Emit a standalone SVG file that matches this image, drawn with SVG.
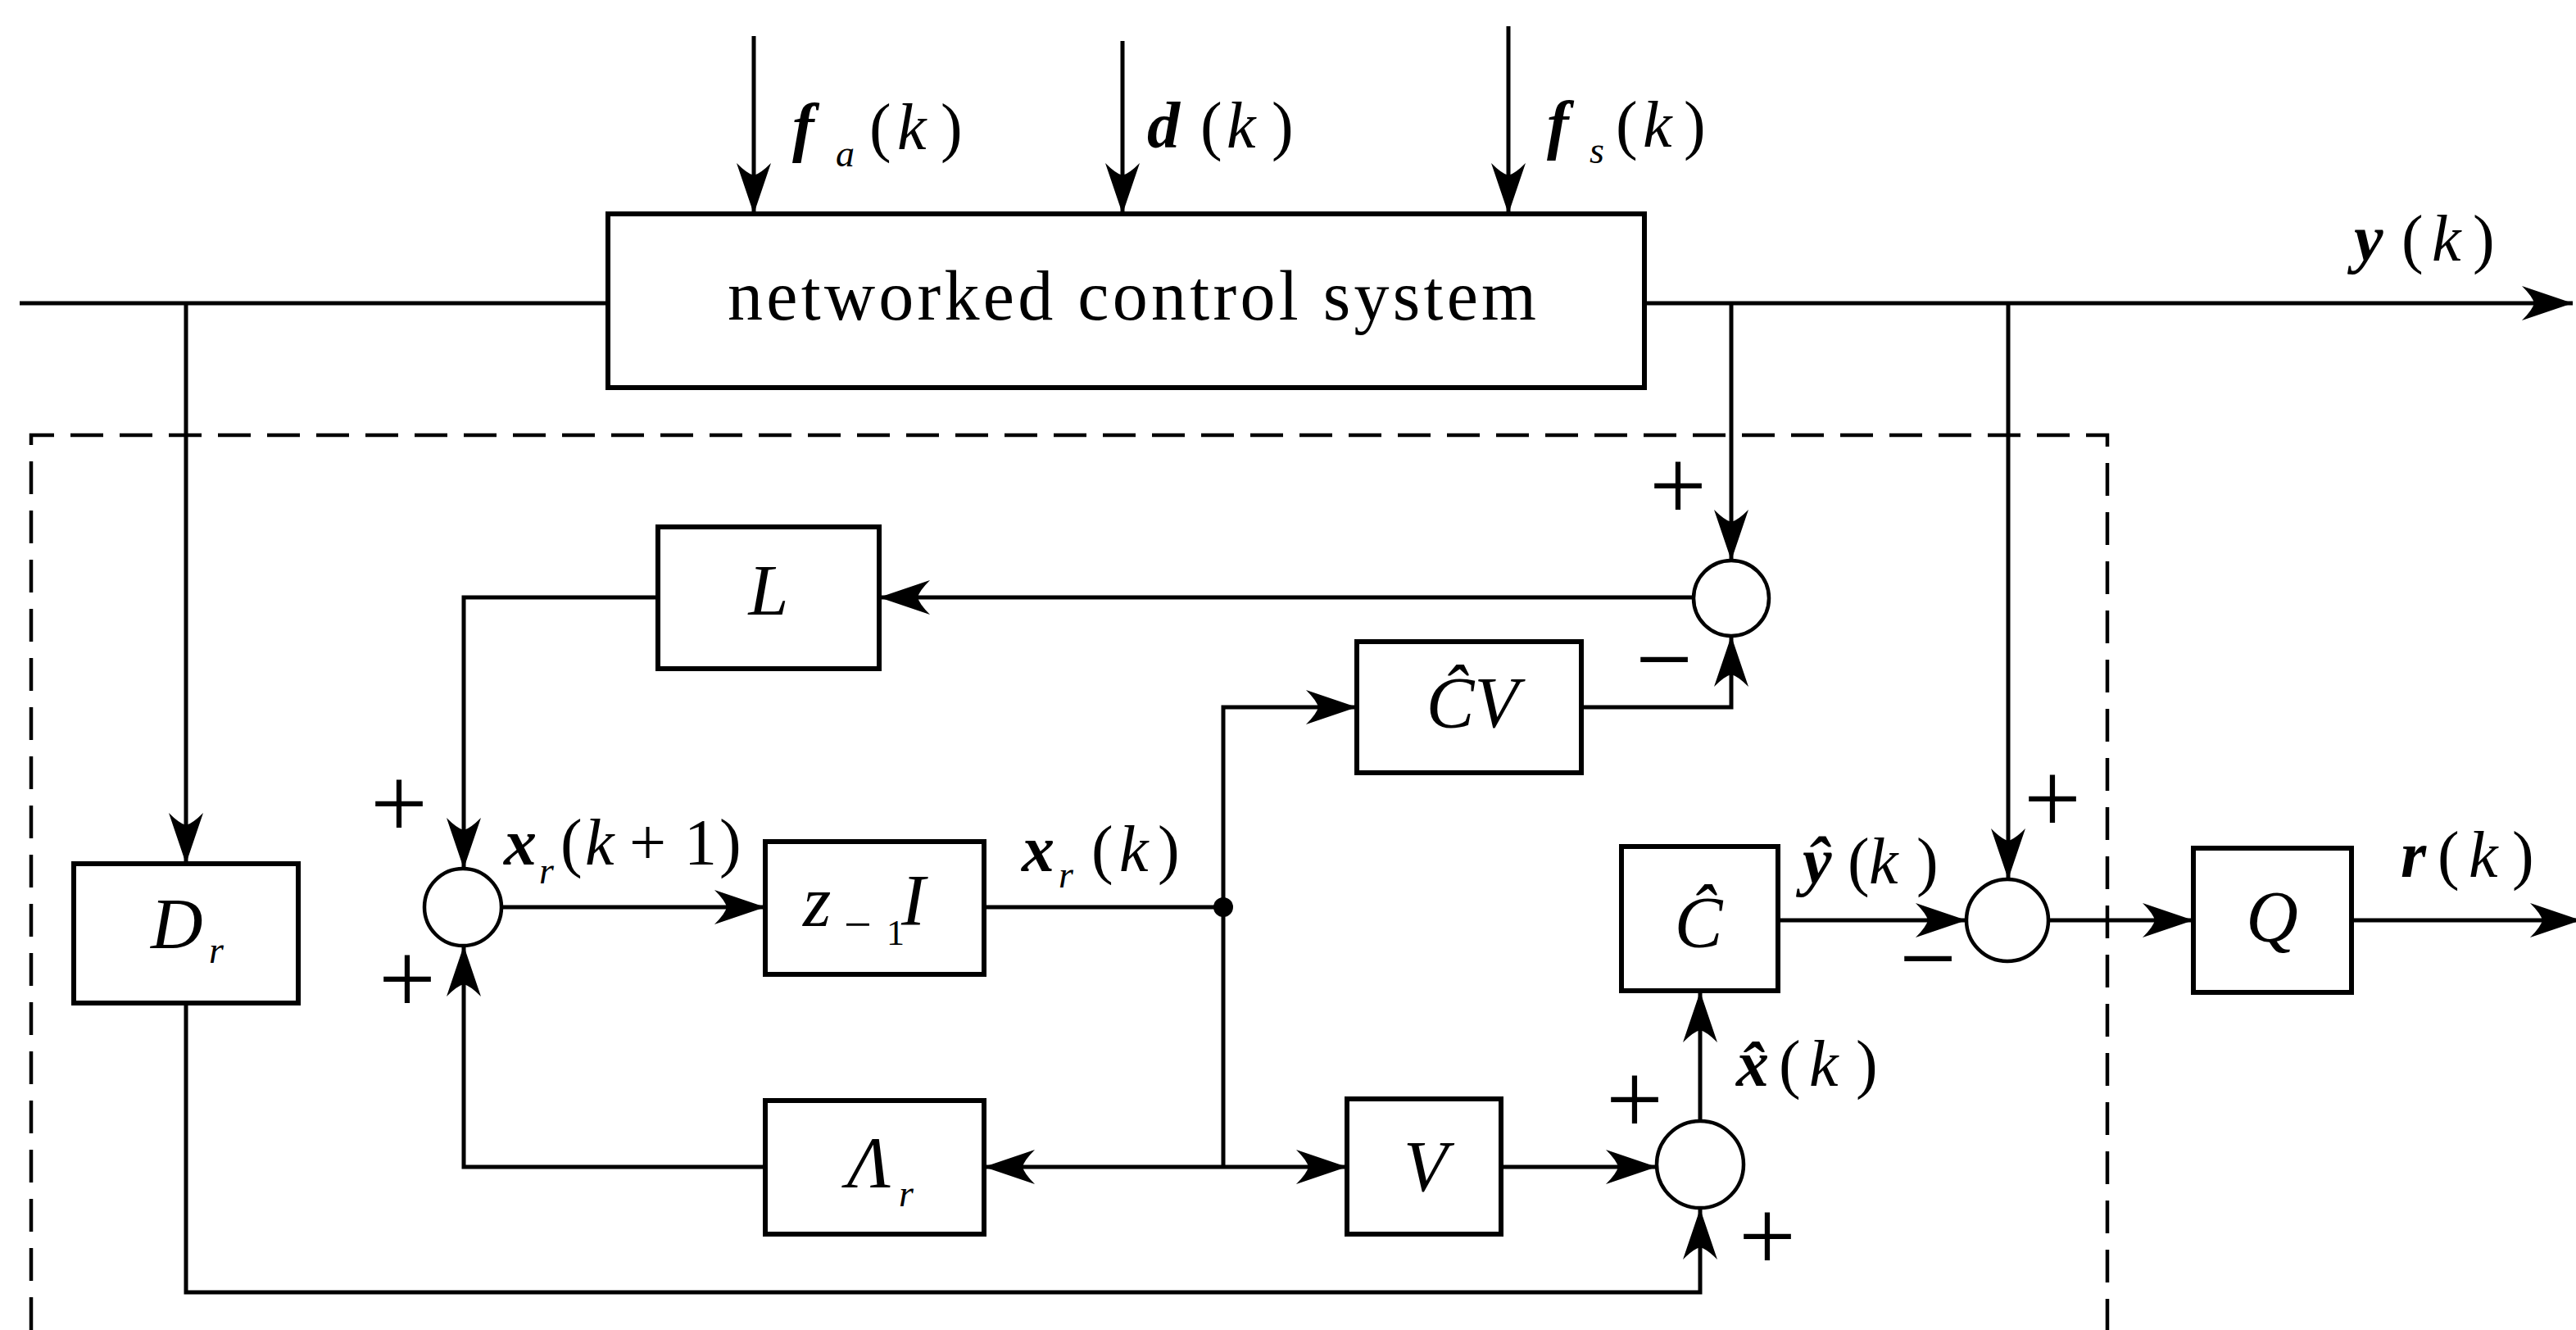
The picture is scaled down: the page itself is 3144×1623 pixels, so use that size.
<svg xmlns="http://www.w3.org/2000/svg" width="3144" height="1623" viewBox="0 0 3144 1623" font-family="'Liberation Serif', Tinos, 'Times New Roman', 'DejaVu Serif', serif">
<style>
.box{fill:#fff;stroke:#000;stroke-width:6}
.ln{fill:none;stroke:#000;stroke-width:5}
.arr{fill:none;stroke:#000;stroke-width:5;marker-end:url(#ah)}
.sum{fill:#fff;stroke:#000;stroke-width:4.5}
.dash{fill:none;stroke:#000;stroke-width:4.5;stroke-dasharray:40 20}
text{font-family:'Liberation Serif',Tinos,'Times New Roman','DejaVu Serif',serif;fill:#000}
.lab{font-size:80px}
.it{font-style:italic}
.bi{font-style:italic;font-weight:bold}
.sub{font-size:46px;font-style:italic}
.nm{font-size:88px;font-style:italic}
.sg{font-size:124px;text-anchor:middle}
</style>
<defs>
<marker id="ah" markerUnits="userSpaceOnUse" markerWidth="64" markerHeight="46" refX="64" refY="23" orient="auto" viewBox="0 0 64 46">
<path d="M64,23 L2,2 Q15,15 17,23 Q15,31 2,44 Z" fill="#000"/>
</marker>
</defs>
<rect width="3144" height="1623" fill="#fff"/>

<path id="boundary" class="dash" d="M38,1623 V531 H2572 V1623"/>

<g id="connectors">
<path class="arr" d="M920,44 V261"/>
<path class="arr" d="M1370,50 V261"/>
<path class="arr" d="M1841,32 V261"/>
<path class="ln" d="M24,370 H742"/>
<path class="arr" d="M2007,370 H3140"/>
<path class="arr" d="M227,370 V1054"/>
<path class="arr" d="M227,1224 V1577 H2075 V1475"/>
<path class="arr" d="M2113,370 V684"/>
<path class="arr" d="M2067,729 H1073"/>
<path class="arr" d="M803,729 H566 V1060"/>
<path class="arr" d="M612,1107 H934"/>
<path class="ln" d="M1201,1107 H1493"/>
<path class="arr" d="M1493,1107 V863 H1656"/>
<path class="arr" d="M1930,863 H2113 V776"/>
<path class="ln" d="M1493,1107 V1424"/>
<path class="arr" d="M1493,1424 H1201"/>
<path class="arr" d="M1493,1424 H1644"/>
<path class="arr" d="M934,1424 H566 V1154"/>
<path class="arr" d="M1832,1424 H2022"/>
<path class="arr" d="M2075,1368 V1210"/>
<path class="arr" d="M2170,1123 H2400"/>
<path class="arr" d="M2451,370 V1073"/>
<path class="arr" d="M2500,1123 H2677"/>
<path class="arr" d="M2870,1123 H3150"/>
<circle cx="1493" cy="1107" r="12" fill="#000"/>
</g>

<g id="ncs">
<rect class="box" x="742" y="261" width="1265" height="212"/>
<text x="888" y="390" font-size="86" textLength="987" lengthAdjust="spacing">networked control system</text>
</g>

<g id="L">
<rect class="box" x="803" y="643" width="270" height="173"/>
<text class="nm" x="938" y="750" text-anchor="middle">L</text>
</g>

<g id="CV">
<rect class="box" x="1656" y="783" width="274" height="160"/>
<text class="nm" x="1797" y="887" text-anchor="middle">ĈV</text>
</g>

<g id="Dr">
<rect class="box" x="90" y="1054" width="274" height="170"/>
<text class="nm" x="184" y="1157">D<tspan class="sub" x="255" y="1175">r</tspan></text>
</g>

<g id="zI">
<rect class="box" x="934" y="1027" width="267" height="162"/>
<text class="nm" x="980" y="1130">z<tspan font-size="60" font-style="normal" x="1030" y="1148">−</tspan><tspan font-size="44" font-style="normal" x="1082" y="1153">1</tspan><tspan x="1100" y="1128">I</tspan></text>
</g>

<g id="Lambda">
<rect class="box" x="934" y="1343" width="267" height="163"/>
<text class="nm" x="1034" y="1448">Λ<tspan class="sub" x="1097" y="1472">r</tspan></text>
</g>

<g id="V">
<rect class="box" x="1644" y="1341" width="188" height="165"/>
<text class="nm" x="1740" y="1453" text-anchor="middle">V</text>
</g>

<g id="Chat">
<rect class="box" x="1979" y="1033" width="191" height="176"/>
<text class="nm" x="2073" y="1155" text-anchor="middle">Ĉ</text>
</g>

<g id="Q">
<rect class="box" x="2677" y="1035" width="193" height="176"/>
<text class="nm" x="2773" y="1148" text-anchor="middle">Q</text>
</g>

<g id="sum1"><circle class="sum" cx="565" cy="1107" r="47"/></g>
<g id="sum2"><circle class="sum" cx="2113" cy="730" r="46"/></g>
<g id="sum3"><circle class="sum" cx="2450" cy="1123" r="50"/></g>
<g id="sum4"><circle class="sum" cx="2075" cy="1421" r="53"/></g>

<g id="signs">
<text class="sg" x="487" y="1022">+</text>
<text class="sg" x="497" y="1236">+</text>
<text class="sg" x="2048" y="634">+</text>
<text class="sg" x="2031" y="846">−</text>
<text class="sg" x="2505" y="1016">+</text>
<text class="sg" x="2353" y="1211">−</text>
<text class="sg" x="1995" y="1383">+</text>
<text class="sg" x="2157" y="1550">+</text>
</g>

<g id="labels">
<text class="lab" y="182"><tspan class="bi" x="967">f</tspan><tspan class="sub" x="1020" y="203">a</tspan><tspan x="1061" y="182">(</tspan><tspan class="it" x="1095">k</tspan><tspan x="1148">)</tspan></text>
<text class="lab" y="180"><tspan class="bi" x="1400">d</tspan><tspan x="1465">(</tspan><tspan class="it" x="1497">k</tspan><tspan x="1552">)</tspan></text>
<text class="lab" y="179"><tspan class="bi" x="1888">f</tspan><tspan class="sub" x="1940" y="199">s</tspan><tspan x="1972" y="179">(</tspan><tspan class="it" x="2005">k</tspan><tspan x="2055">)</tspan></text>
<text class="lab" y="318"><tspan class="bi" x="2873">y</tspan><tspan x="2931">(</tspan><tspan class="it" x="2968">k</tspan><tspan x="3018">)</tspan></text>
<text class="lab" y="1055"><tspan class="bi" x="615">x</tspan><tspan class="sub" x="658" y="1078">r</tspan><tspan x="684" y="1055">(</tspan><tspan class="it" x="714">k</tspan><tspan x="768">+</tspan><tspan x="835">1</tspan><tspan x="878">)</tspan></text>
<text class="lab" y="1063"><tspan class="bi" x="1247">x</tspan><tspan class="sub" x="1292" y="1083">r</tspan><tspan x="1332" y="1063">(</tspan><tspan class="it" x="1366">k</tspan><tspan x="1413">)</tspan></text>
<text class="lab" y="1078"><tspan class="bi" x="2200">ŷ</tspan><tspan x="2255">(</tspan><tspan class="it" x="2281">k</tspan><tspan x="2339">)</tspan></text>
<text class="lab" y="1325"><tspan class="bi" x="2119">x̂</tspan><tspan x="2171">(</tspan><tspan class="it" x="2208">k</tspan><tspan x="2265">)</tspan></text>
<text class="lab" y="1070"><tspan class="bi" x="2930">r</tspan><tspan x="2975">(</tspan><tspan class="it" x="3013">k</tspan><tspan x="3066">)</tspan></text>
</g>
</svg>
